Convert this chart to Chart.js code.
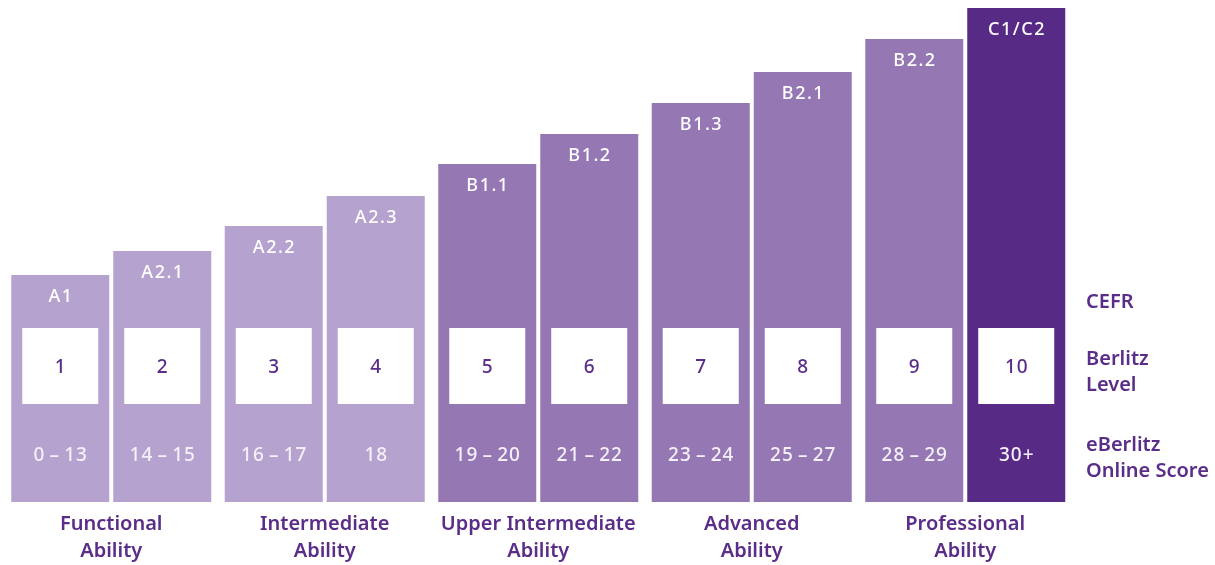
<!DOCTYPE html>
<html>
<head>
<meta charset="utf-8">
<script src="https://cdn.jsdelivr.net/npm/chart.js@4/dist/chart.umd.min.js"></script>
<style>
html,body{margin:0;padding:0;background:#fff;}
#wrap{width:1215px;height:565px;position:relative;}
</style>
</head>
<body>
<div id="wrap"><canvas id="c" width="1215" height="565"></canvas></div>
<script>
// ---- data ----
const groupLabels = [['Functional','Ability'],['Intermediate','Ability'],['Upper Intermediate','Ability'],['Advanced','Ability'],['Professional','Ability']];
const firstBarHeights  = [227, 276, 338, 399, 463];
const secondBarHeights = [251, 306, 368, 430, 494];
const cefrLabels  = ['A1','A2.1','A2.2','A2.3','B1.1','B1.2','B1.3','B2.1','B2.2','C1/C2'];
const berlitzLevels = ['1','2','3','4','5','6','7','8','9','10'];
const onlineScores = ['0\u2009–\u200913','14\u2009–\u200915','16\u2009–\u200917','18','19\u2009–\u200920','21\u2009–\u200922','23\u2009–\u200924','25\u2009–\u200927','28\u2009–\u200929','30+'];
const rowLabels = ['CEFR', ['Berlitz','Level'], ['eBerlitz','Online Score']];
const rowValues = [200, 130, 44];      // vertical positions of the row labels (scale units)
const boxCenterValue = 136, boxHalf = 38; // white level box (scale units)
const scoreRowValue = 47;

const LIGHT = '#b5a2cf', MID = '#9578b3', DARK = '#572a85', TEXT = '#5a2d88';
const FONT = '"Noto Sans", "Open Sans", sans-serif';

function barColor(i){ return i < 4 ? LIGHT : (i < 9 ? MID : DARK); }

const barText = {
  id: 'barText',
  afterDatasetsDraw(chart){
    const ctx = chart.ctx, y = chart.scales.y;
    ctx.save();
    chart.data.datasets.forEach((ds, di) => {
      chart.getDatasetMeta(di).data.forEach((bar, gi) => {
        const idx = gi*2 + di;
        const cx = bar.x;
        ctx.textAlign = 'center';
        ctx.textBaseline = 'middle';
        try { ctx.letterSpacing = '1.5px'; } catch(e){}
        ctx.fillStyle = '#fff';
        ctx.font = '500 18px ' + FONT;
        ctx.fillText(cefrLabels[idx], cx + 0.75, bar.y + 22);
        const bt = y.getPixelForValue(boxCenterValue + boxHalf);
        const bb = y.getPixelForValue(boxCenterValue - boxHalf);
        ctx.fillStyle = '#fff';
        ctx.fillRect(cx - 38, bt, 76, bb - bt);
        try { ctx.letterSpacing = '1px'; } catch(e){}
        ctx.fillStyle = TEXT;
        ctx.font = '500 19px ' + FONT;
        ctx.fillText(berlitzLevels[idx], cx + 0.5, (bt+bb)/2 + 2);
        ctx.fillStyle = '#f4f0f8';
        ctx.font = '500 19px ' + FONT;
        ctx.fillText(onlineScores[idx], cx + 0.5, y.getPixelForValue(scoreRowValue) + 1);
        try { ctx.letterSpacing = '0px'; } catch(e){}
      });
    });
    ctx.restore();
  }
};

new Chart(document.getElementById('c'), {
  type: 'bar',
  data: {
    labels: groupLabels,
    datasets: [
      { data: firstBarHeights,  backgroundColor: firstBarHeights.map((v,i)=>barColor(i*2)),   borderWidth: 0 },
      { data: secondBarHeights, backgroundColor: secondBarHeights.map((v,i)=>barColor(i*2+1)), borderWidth: 0 }
    ]
  },
  options: {
    responsive: false,
    animation: false,
    layout: { padding: { left: 4.5, top: 8, right: 0, bottom: 0 } },
    plugins: { legend: { display: false }, tooltip: { enabled: false } },
    datasets: { bar: { categoryPercentage: 204/213.5, barPercentage: 98/102 } },
    scales: {
      x: {
        grid: { display: false, drawTicks: false },
        border: { display: false },
        afterFit(scale){ scale.height = 63; scale.paddingLeft = 0; scale.paddingRight = 0; },
        ticks: { color: TEXT, font: { family: FONT, size: 20, weight: '600', lineHeight: 27/20 }, padding: 9, maxRotation: 0, autoSkip: false }
      },
      y: {
        display: false, min: 0, max: 494
      },
      r: {
        position: 'right', min: 0, max: 494,
        grid: { display: false, drawTicks: false },
        border: { display: false },
        afterBuildTicks(scale){ scale.ticks = rowValues.map(v => ({ value: v })); },
        afterFit(scale){ scale.width = 143; scale.paddingTop = 0; scale.paddingBottom = 0; },
        ticks: {
          color: TEXT, padding: 14, align: 'start', crossAlign: 'near',
          font: { family: FONT, size: 20, weight: '600', lineHeight: 26/20 },
          callback: (v, i) => rowLabels[i]
        }
      }
    }
  },
  plugins: [barText]
});
</script>
</body>
</html>
